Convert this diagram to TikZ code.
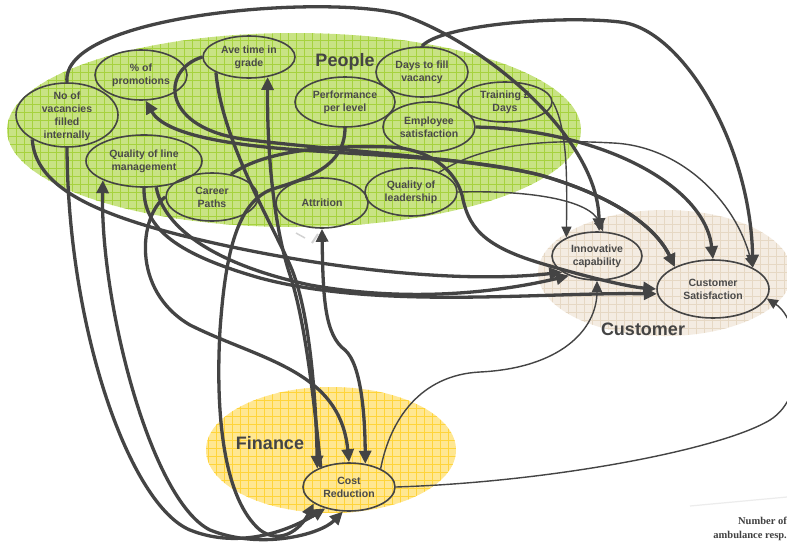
\documentclass[tikz,border=0pt]{standalone}
\usepackage{fontspec}
\setmainfont{Liberation Sans}
\newfontfamily\serifnote{Liberation Serif}
\usetikzlibrary{shapes.geometric,arrows.meta}
\definecolor{linec}{HTML}{444444}
\definecolor{txtc}{HTML}{4A4A4A}
\definecolor{pfill}{HTML}{C8E384}
\definecolor{pgrid}{HTML}{A6D23E}
\definecolor{cfill}{HTML}{F4ECE2}
\definecolor{cgrid}{HTML}{E6D8C4}
\definecolor{ffill}{HTML}{FFE792}
\definecolor{fgrid}{HTML}{FFD43A}
\newcommand{\bggrid}[1]{%
  \foreach \gx in {0,8,...,792} {\draw[#1,line width=0.7pt] (\gx,0) -- (\gx,544);}
  \foreach \gy in {0,8,...,544} {\draw[#1,line width=0.7pt] (0,\gy) -- (787,\gy);}}
\begin{document}
\begin{tikzpicture}[x=1pt,y=-1pt,
  cell/.style={ellipse,draw=linec,line width=1.6pt,inner sep=0pt,align=center,text=txtc,
    font=\bfseries\fontsize{10.5}{13}\selectfont},
  celltext/.style={inner sep=0pt,align=center,text=txtc,font=\bfseries\fontsize{10.5}{13}\selectfont},
  thk/.style={draw=linec,line width=3.3pt,-{Triangle[length=13pt,width=12pt]}},
  thkb/.style={draw=linec,line width=3.3pt,{Triangle[length=13pt,width=12pt]}-{Triangle[length=13pt,width=12pt]}},
  thn/.style={draw=linec,line width=1.4pt,-{Triangle[length=11pt,width=10pt]}},
  biglab/.style={text=linec,font=\bfseries\fontsize{18}{20}\selectfont,inner sep=0pt},
  note/.style={text=black!75,font=\serifnote\bfseries\fontsize{10.5}{12}\selectfont,inner sep=0pt,anchor=east}]
\useasboundingbox (0,0) rectangle (787,544);
\fill[white] (0,0) rectangle (787,544);
% background areas
\begin{scope}
  \clip (294,130) ellipse [x radius=287, y radius=97];
  \fill[pfill] (0,0) rectangle (787,544);
  \bggrid{pgrid}
\end{scope}
\begin{scope}
  \clip (665,273) ellipse [x radius=127, y radius=63];
  \fill[cfill] (0,0) rectangle (787,544);
  \bggrid{cgrid}
\end{scope}
\begin{scope}
  \clip (331,450) ellipse [x radius=125, y radius=63];
  \fill[ffill] (0,0) rectangle (787,544);
  \bggrid{fgrid}
\end{scope}
% group labels
\node[biglab] (lpeople) at (345,62) {People};
\node[biglab] (lcust) at (643,329) {Customer};
\node[biglab] (lfin) at (270,443) {Finance};
% nodes
\node[cell,minimum width=92pt,minimum height=50pt] (prom) at (141,75) {\% of\\promotions};
\node[cell,minimum width=92pt,minimum height=42pt] (ave) at (249,57) {Ave time in\\grade};
\node[cell,minimum width=102pt,minimum height=64pt] (novac) at (67,115) {};
\node[celltext] (novact) at (67,116) {No of\\vacancies\\filled\\internally};
\node[cell,minimum width=116pt,minimum height=52pt] (qlm) at (144,161) {Quality of line\\management};
\node[cell,minimum width=92pt,minimum height=48pt] (career) at (212,197) {Career\\Paths};
\node[cell,minimum width=100pt,minimum height=50pt] (perf) at (345,102) {Performance\\per level};
\node[cell,minimum width=92pt,minimum height=50pt] (attr) at (322,203) {Attrition};
\node[cell,minimum width=92pt,minimum height=48pt] (qlead) at (411,192) {Quality of\\leadership};
\node[cell,minimum width=92pt,minimum height=50pt] (days) at (422,72) {Days to fill\\vacancy};
\node[cell,minimum width=94pt,minimum height=40pt] (train) at (505,102) {Training £\\Days};
\node[cell,minimum width=92pt,minimum height=50pt] (empsat) at (429,127) {Employee\\satisfaction};
\node[cell,minimum width=90pt,minimum height=48pt] (innov) at (597,256) {Innovative\\capability};
\node[cell,minimum width=112pt,minimum height=58pt] (custsat) at (713,289) {Customer\\Satisfaction};
\node[cell,minimum width=92pt,minimum height=48pt] (cost) at (349,487) {Cost\\Reduction};
% connectors
\draw[thk] (novac.north) .. controls (60,15) and (320,-6) .. (400,14) .. controls (490,45) and (598,140) .. (innov.85);
\draw[thk] (days.north) .. controls (440,25) and (560,15) .. (620,22) .. controls (680,28) and (750,140) .. (custsat.28);
\draw[thn] (qlead.35) .. controls (490,140) and (560,140) .. (613,143) .. controls (680,146) and (735,200) .. (custsat.28);
\draw[thn] (qlead.east) .. controls (530,190) and (590,200) .. (innov.76);
\draw[thn] (train.east) .. controls (568,130) and (567,180) .. (innov.149);
\draw[thk] (empsat.east) .. controls (600,130) and (705,185) .. (custsat.north);
\draw[thkb] (prom.-80) .. controls (165,135) and (230,145) .. (300,150) .. controls (420,158) and (480,160) .. (540,175) .. controls (610,195) and (655,225) .. (custsat.150);
\draw[thk] (ave.west) .. controls (160,70) and (160,130) .. (250,140) .. controls (330,150) and (470,158) .. (540,175) .. controls (610,195) and (655,225) .. (custsat.150);
\draw[thk] (perf.south) .. controls (345,170) and (300,180) .. (270,190) .. controls (235,205) and (225,260) .. (220,330) .. controls (215,420) and (225,500) .. (260,530) .. controls (280,545) and (300,530) .. (cost.205);
\draw[thk] (career.50) .. controls (265,150) and (330,145) .. (390,147) .. controls (430,149) and (455,170) .. (462,195) .. controls (468,225) and (480,245) .. (540,263) .. controls (590,278) and (630,287) .. (custsat.west);
\draw[thk] (novac.215) .. controls (35,185) and (90,212) .. (180,235) .. controls (300,265) and (450,285) .. (innov.205);
\draw[thk] (qlm.south) .. controls (143,230) and (180,255) .. (260,278) .. controls (380,310) and (540,292) .. (custsat.185);
\draw[thk] (qlm.-65) .. controls (165,235) and (230,268) .. (310,285) .. controls (410,303) and (500,292) .. (innov.215);
\draw[thk] (career.west) .. controls (140,215) and (130,290) .. (190,325) .. controls (260,360) and (340,370) .. (cost.north);
\draw[thk] (ave.205) .. controls (222,140) and (270,220) .. (290,265) .. controls (310,310) and (316,400) .. (cost.150);
\draw[thk] (cost.145) .. controls (314,400) and (305,320) .. (290,275) .. controls (275,230) and (267,160) .. (ave.-47);
\draw[thkb] (attr.south) .. controls (323,300) and (325,335) .. (345,350) .. controls (362,365) and (365,420) .. (cost.55);
\draw[thn] (cost.30) .. controls (390,420) and (420,375) .. (480,372) .. controls (560,368) and (597,330) .. (innov.south);
\draw[thn] (cost.east) .. controls (550,482) and (720,450) .. (770,420) .. controls (810,395) and (800,320) .. (custsat.-10);
\draw[thk] (novac.south) .. controls (68,330) and (130,505) .. (190,530) .. controls (240,550) and (290,530) .. (cost.222);
\draw[thkb] (qlm.205) .. controls (100,300) and (150,500) .. (210,530) .. controls (260,550) and (320,535) .. (cost.256);
% faint marks
\draw[gray!35,line width=1.5pt] (296,233) -- (305,238);
\draw[gray!35,line width=2pt] (312,243) -- (318,234);
\draw[gray!15,line width=1.2pt] (690,506) -- (787,497);
% note
\node[note] (note1) at (787,521) {Number of};
\node[note] (note2) at (787,536) {ambulance resp.};
\end{tikzpicture}
\end{document}
